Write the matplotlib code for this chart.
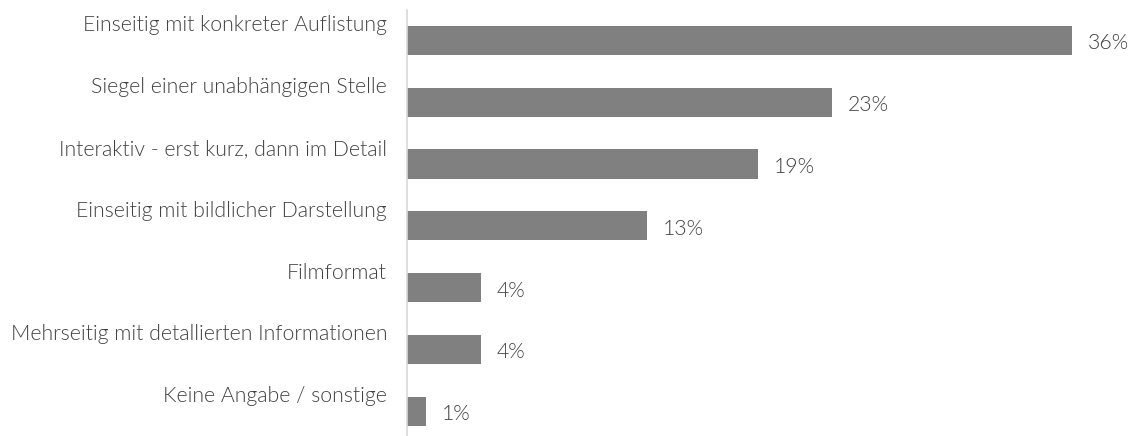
import matplotlib.pyplot as plt

# Balkendiagramm: bevorzugte Darstellungsform
kategorien = [
    "Einseitig mit konkreter Auflistung",
    "Siegel einer unabhängigen Stelle",
    "Interaktiv - erst kurz, dann im Detail",
    "Einseitig mit bildlicher Darstellung",
    "Filmformat",
    "Mehrseitig mit detallierten Informationen",
    "Keine Angabe / sonstige",
]
werte = [36, 23, 19, 13, 4, 4, 1]
beschriftung = ["36%", "23%", "19%", "13%", "4%", "4%", "1%"]

plt.rcParams['font.family'] = ['Lato', 'DejaVu Sans']
textfarbe = "#404040"

fig = plt.figure(figsize=(11.37, 4.36), dpi=100)
ax = fig.add_axes([0.358, 0.0, 0.585, 0.977])

pos = list(range(len(kategorien)))
ax.barh(pos, werte, height=0.47, color="#808080")
ax.set_xlim(0, 36)
ax.set_ylim(6.4, -0.49)

for i, (kat, w, lab) in enumerate(zip(kategorien, werte, beschriftung)):
    ax.annotate(kat, xy=(0, i), xytext=(-20, 15), textcoords="offset pixels",
                ha="right", va="center", fontsize=15.3, fontweight=300,
                color=textfarbe, annotation_clip=False)
    ax.annotate(lab, xy=(w, i), xytext=(16, -3), textcoords="offset pixels",
                ha="left", va="center", fontsize=15.3, fontweight=300,
                color=textfarbe, annotation_clip=False)

for s in ["top", "right", "bottom"]:
    ax.spines[s].set_visible(False)
ax.spines["left"].set_color("#d9d9d9")
ax.spines["left"].set_linewidth(1.2)
ax.set_xticks([])
ax.set_yticks([])

fig.savefig("out.png", dpi=100)
